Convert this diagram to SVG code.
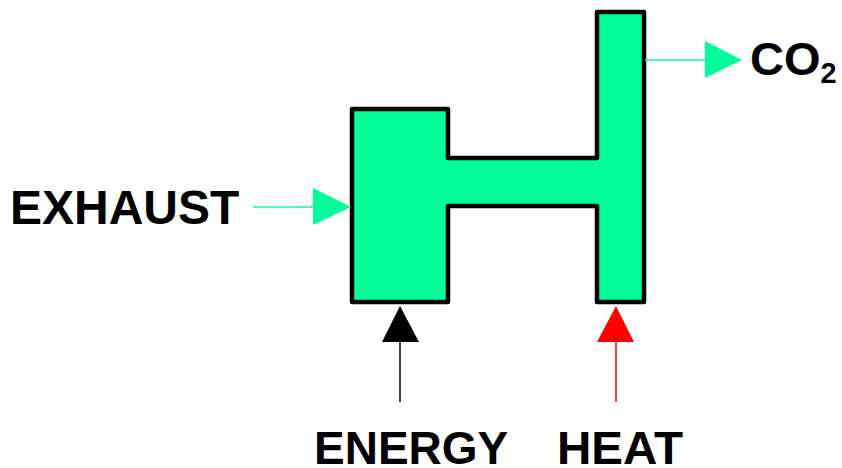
<svg xmlns="http://www.w3.org/2000/svg" width="842" height="468" viewBox="0 0 842 468">
<style>
.lbl{font-family:"Liberation Sans",Arial,sans-serif;font-weight:bold;fill:#000}
.g{stroke:#00FF99;stroke-width:1.5;fill:none}
</style>
<rect width="842" height="468" fill="#fff"/>
<g id="reactor">
<polygon points="352,109 448,109 448,158 597,158 597,12 644,12 644,302 597,302 597,206 448,206 448,302 352,302" fill="#00FF99" stroke="#000" stroke-width="4.5" stroke-linejoin="round"/>
</g>
<g id="connectors">
<line class="g" x1="253" y1="207" x2="314" y2="207"/>
<polygon points="313,188 351,207 313,225" fill="#00FF99"/>
<line class="g" x1="645" y1="60" x2="706" y2="60"/>
<polygon points="705,41 742,60 705,78" fill="#00FF99"/>
<line x1="400" y1="402" x2="400" y2="340" stroke="#000" stroke-width="1.5"/>
<polygon points="382,342 400,306 419,342" fill="#000"/>
<line x1="616" y1="402" x2="616" y2="340" stroke="#FF0000" stroke-width="1.5"/>
<polygon points="597,342 616,306 634,342" fill="#FF0000"/>
</g>
<g id="exhaust"><text class="lbl" x="10" y="224" font-size="48">EXHAUST</text></g>
<g id="co2"><text class="lbl" x="750" y="75" font-size="47">CO<tspan font-size="29" dy="8">2</tspan></text></g>
<g id="energy"><text class="lbl" x="314" y="464" font-size="46">ENERGY</text></g>
<g id="heat"><text class="lbl" x="557" y="464" font-size="46" textLength="126" lengthAdjust="spacingAndGlyphs">HEAT</text></g>
</svg>
